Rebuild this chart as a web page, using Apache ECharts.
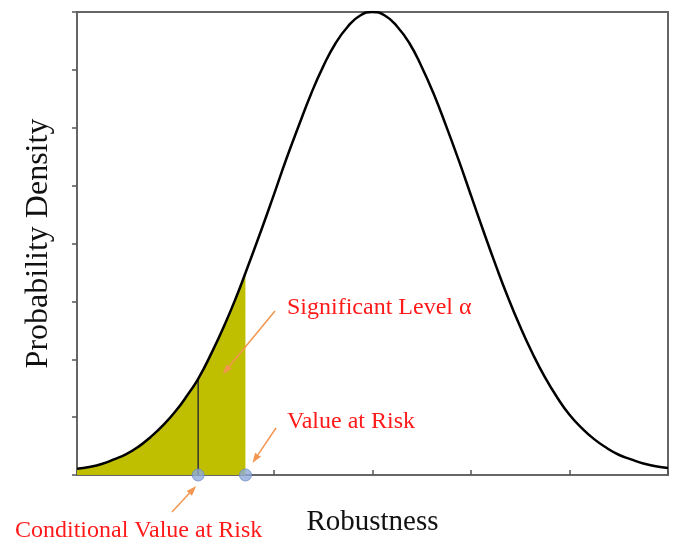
<!DOCTYPE html>
<html>
<head>
<meta charset="utf-8">
<script src="https://cdn.jsdelivr.net/npm/echarts@6/dist/echarts.min.js"></script>
<style>
  html, body { margin: 0; padding: 0; background: #fff; }
  #main { width: 685px; height: 545px; }
</style>
</head>
<body>
<div id="main"></div>
<script>
// robustness (in std units) and density
var robustness = [-3, -2.875, -2.75, -2.625, -2.5, -2.375, -2.25, -2.125, -2, -1.875, -1.77, -1.625,
                  -1.5, -1.375, -1.29, -1.125, -1, -0.875, -0.75, -0.625, -0.5, -0.375, -0.25, -0.125, 0,
                  0.125, 0.25, 0.375, 0.5, 0.625, 0.75, 0.875, 1, 1.125, 1.25, 1.375, 1.5, 1.625,
                  1.75, 1.875, 2, 2.125, 2.25, 2.375, 2.5, 2.625, 2.75, 2.875, 3];
var density = [0.11, 0.14, 0.19, 0.27, 0.36, 0.49, 0.66, 0.86, 1.1, 1.39, 1.66, 2.14,
               2.6, 3.11, 3.49, 4.25, 4.85, 5.46, 6.03, 6.58, 7.06, 7.46, 7.75, 7.94, 8,
               7.94, 7.75, 7.46, 7.05, 6.57, 6.02, 5.44, 4.83, 4.22, 3.63, 3.07, 2.56, 2.1,
               1.69, 1.34, 1.04, 0.81, 0.62, 0.47, 0.35, 0.27, 0.2, 0.15, 0.12];
var varX = -1.29;   // value at risk
var cvarX = -1.77;  // conditional value at risk
var labels = ['Significant Level α', 'Value at Risk', 'Conditional Value at Risk'];

var curve = robustness.map(function (x, i) { return [x, density[i]]; });
var varIdx = robustness.indexOf(varX);
var cvarIdx = robustness.indexOf(cvarX);
var tail = curve.slice(0, varIdx + 1);

var serif = 'Liberation Serif';
var chart = echarts.init(document.getElementById('main'));

var option = {
  animation: false,
  grid: { left: 77, right: 17, top: 12, bottom: 70, show: true, borderColor: '#666', borderWidth: 2 },
  xAxis: {
    type: 'value', min: -3, max: 3, interval: 1,
    name: 'Robustness', nameLocation: 'middle', nameGap: 33,
    nameTextStyle: { fontFamily: serif, fontSize: 29, color: '#111' },
    axisLine: { show: false, onZero: false },
    axisTick: { show: true, inside: true, length: 5, lineStyle: { color: '#555', width: 1.5 } },
    axisLabel: { show: false },
    splitLine: { show: false }
  },
  yAxis: {
    type: 'value', min: 0, max: 8, interval: 1,
    name: 'Probability Density', nameLocation: 'middle', nameGap: 22,
    nameTextStyle: { fontFamily: serif, fontSize: 32, color: '#111' },
    axisLine: { show: false, onZero: false },
    axisTick: { show: true, inside: false, length: 5, lineStyle: { color: '#555', width: 1.5 } },
    axisLabel: { show: false },
    splitLine: { show: false }
  },
  series: [
    {
      type: 'line', data: tail, smooth: true, symbol: 'none', z: 1,
      lineStyle: { width: 0 },
      areaStyle: { color: '#bfbf00', opacity: 1 }
    },
    {
      type: 'line', data: [[cvarX, 0], [cvarX, density[cvarIdx]]], symbol: 'none', z: 2,
      lineStyle: { color: '#333', width: 1.5 }
    },
    {
      type: 'line', data: curve, smooth: true, symbol: 'none', z: 3,
      lineStyle: { color: '#000', width: 2.5 }
    },
    {
      type: 'scatter', data: [[cvarX, 0], [varX, 0]], symbolSize: 12, clip: false, z: 4,
      itemStyle: { color: '#8eaadb', borderColor: '#6b8cc7', borderWidth: 1 }
    }
  ]
};
chart.setOption(option);

// orange annotation arrow: shaft + filled head
function arrow(x1, y1, x2, y2) {
  var a = Math.atan2(y2 - y1, x2 - x1), L = 10, W = 3.5;
  var bx = x2 - L * Math.cos(a), by = y2 - L * Math.sin(a);
  var px = -Math.sin(a) * W, py = Math.cos(a) * W;
  return [
    { type: 'line', z: 100, shape: { x1: x1, y1: y1, x2: bx, y2: by }, style: { stroke: '#f29650', lineWidth: 1.5 } },
    { type: 'polygon', z: 100, shape: { points: [[x2, y2], [bx + px, by + py], [bx - px, by - py]] }, style: { fill: '#f29650' } }
  ];
}

var pVar = chart.convertToPixel({ gridIndex: 0 }, [varX, 0]);
var pCvar = chart.convertToPixel({ gridIndex: 0 }, [cvarX, 0]);
var pArea = chart.convertToPixel({ gridIndex: 0 }, [-1.52, 1.74]);

var txt = { fontFamily: serif, fontSize: 24, fill: '#ff1a1a' };
var g = [];
g = g.concat(arrow(275, 311, pArea[0], pArea[1]));
g = g.concat(arrow(276, 428, pVar[0] + 7, pVar[1] - 12));
g = g.concat(arrow(172, 512, pCvar[0] - 2, pCvar[1] + 11));
g.push({ type: 'text', z: 100, left: 287, top: 296, style: Object.assign({ text: labels[0] }, txt) });
g.push({ type: 'text', z: 100, left: 287, top: 410, style: Object.assign({ text: labels[1] }, txt) });
g.push({ type: 'text', z: 100, left: 15, top: 519, style: Object.assign({ text: labels[2] }, txt) });
chart.setOption({ graphic: g });
</script>
</body>
</html>
